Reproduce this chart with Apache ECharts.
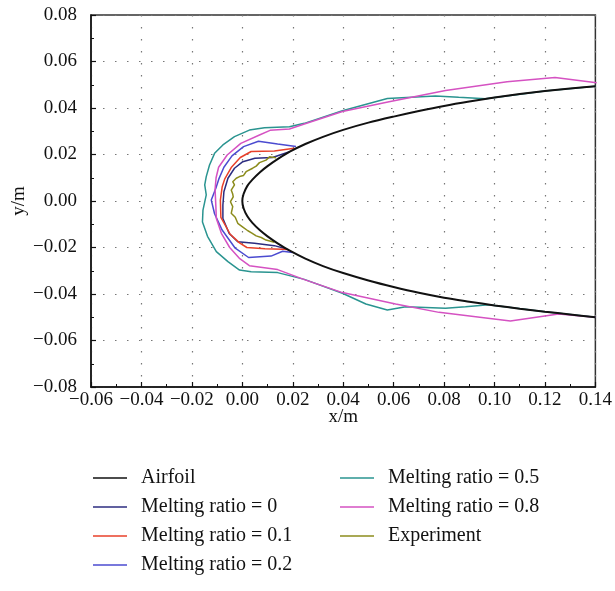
<!DOCTYPE html>
<html>
<head>
<meta charset="utf-8">
<script src="https://cdn.jsdelivr.net/npm/echarts@6/dist/echarts.min.js"></script>
<style>
html,body{margin:0;padding:0;background:#fff;}
#chart{width:615px;height:591px;}
</style>
</head>
<body>
<div id="chart"></div>
<script>
// ---- data: [x (m), y (m)] ----
const seriesNames = ['Airfoil', 'Melting ratio = 0', 'Melting ratio = 0.1', 'Melting ratio = 0.2', 'Melting ratio = 0.5', 'Melting ratio = 0.8', 'Experiment'];

const airfoil = [
  [0.14, 0.0494], [0.13, 0.0484], [0.12, 0.0473], [0.11, 0.0460], [0.10, 0.0445], [0.09, 0.0428],
  [0.08, 0.0409], [0.07, 0.0387], [0.06, 0.0363], [0.05, 0.0337], [0.04, 0.0306], [0.032, 0.0276],
  [0.025, 0.0245], [0.019, 0.0213], [0.014, 0.0180], [0.010, 0.0150], [0.007, 0.0124],
  [0.004, 0.0092], [0.002, 0.0065], [0.0005, 0.0030], [0, 0],
  [0.0005, -0.0031], [0.002, -0.0066], [0.004, -0.0094], [0.007, -0.0126], [0.010, -0.0152],
  [0.014, -0.0182], [0.019, -0.0215], [0.025, -0.0248], [0.032, -0.0280], [0.04, -0.0310],
  [0.05, -0.0342], [0.06, -0.0370], [0.07, -0.0395], [0.08, -0.0416], [0.09, -0.0433],
  [0.10, -0.0449], [0.11, -0.0463], [0.12, -0.0476], [0.13, -0.0488], [0.14, -0.0500]
];

const ratio0 = [
  [0.0187, 0.0212], [0.012, 0.0187], [0.0050, 0.0184], [0.0002, 0.0169], [-0.0031, 0.0141],
  [-0.0057, 0.0098], [-0.0073, 0.0040], [-0.0077, -0.0017], [-0.0077, -0.0075], [-0.0052, -0.0140],
  [-0.0018, -0.0175], [0.0048, -0.0182], [0.0127, -0.0192], [0.0173, -0.0205]
];

const ratio01 = [
  [0.0206, 0.0227], [0.0127, 0.0215], [0.0035, 0.0213], [-0.0008, 0.0187], [-0.0044, 0.0144],
  [-0.0070, 0.0094], [-0.0080, 0.0060], [-0.0087, 0.0004], [-0.0085, -0.0070], [-0.0048, -0.0143],
  [-0.0011, -0.0180], [0.0018, -0.0200], [0.0090, -0.0205], [0.0160, -0.0207], [0.0185, -0.0210]
];

const ratio02 = [
  [0.0213, 0.0234], [0.014, 0.0245], [0.0064, 0.0257], [0.0005, 0.0234], [-0.0041, 0.0194],
  [-0.0073, 0.0145], [-0.0093, 0.0095], [-0.0105, 0.0055], [-0.0123, 0.0004], [-0.0110, -0.0055],
  [-0.0080, -0.0125], [-0.0028, -0.0203], [0.0025, -0.0243], [0.0114, -0.0237], [0.0160, -0.0216],
  [0.0200, -0.0222]
];

const ratio05 = [
  [0.14, 0.0494], [0.12, 0.0473], [0.0964, 0.0440], [0.0858, 0.0446], [0.0766, 0.0452], [0.0575, 0.0441],
  [0.0397, 0.0388], [0.0246, 0.0334], [0.0187, 0.0319], [0.0088, 0.0315], [0.0028, 0.0305],
  [-0.0031, 0.0277], [-0.0077, 0.0241], [-0.0110, 0.0205], [-0.0130, 0.0155], [-0.0143, 0.0105],
  [-0.0149, 0.0069], [-0.0143, 0.0026], [-0.0156, -0.0039], [-0.0158, -0.0090], [-0.0138, -0.0152],
  [-0.0103, -0.0218], [-0.0057, -0.0261], [-0.0011, -0.0297], [0.0035, -0.0304], [0.014, -0.0308],
  [0.0246, -0.0337], [0.0397, -0.0397], [0.049, -0.0443], [0.0575, -0.0469], [0.0648, -0.0455],
  [0.0806, -0.0461], [0.0885, -0.0455], [0.0977, -0.0446], [0.12, -0.0476], [0.14, -0.0500]
];

const ratio08 = [
  [0.1405, 0.0509], [0.124, 0.0531], [0.1050, 0.0513], [0.0806, 0.0475], [0.0582, 0.0427],
  [0.0397, 0.0385], [0.0246, 0.0331], [0.0187, 0.0310], [0.0110, 0.0304], [0.0068, 0.0284],
  [-0.0006, 0.0248], [-0.0060, 0.0198], [-0.0094, 0.0145], [-0.0104, 0.0100], [-0.0108, 0.0050],
  [-0.0105, -0.0020], [-0.0103, -0.0075], [-0.0083, -0.0139], [-0.0050, -0.0200], [-0.0010, -0.0248],
  [0.0028, -0.0278], [0.0140, -0.0295], [0.0246, -0.0338], [0.0397, -0.0394], [0.0608, -0.0443],
  [0.078, -0.0479], [0.1063, -0.0516], [0.1254, -0.0486], [0.14, -0.0500]
];

const experiment = [
  [0.0134, 0.0186], [0.0108, 0.0190], [0.0094, 0.0176], [0.0068, 0.0165], [0.0055, 0.0150],
  [0.0041, 0.0141], [0.0015, 0.0126], [0.0005, 0.0110], [-0.0011, 0.0105], [-0.0024, 0.0098],
  [-0.0038, 0.0083], [-0.0031, 0.0069], [-0.0044, 0.0047], [-0.0038, 0.0030], [-0.0036, 0.0018],
  [-0.0047, -0.0003], [-0.0038, -0.0024], [-0.0044, -0.0053], [-0.0028, -0.0070], [-0.0018, -0.0096],
  [0.0002, -0.0112], [0.0022, -0.0128], [0.0038, -0.0138], [0.0055, -0.0150], [0.0075, -0.0157],
  [0.0094, -0.0168], [0.0127, -0.0177]
];

const xTicks = { min: -0.06, max: 0.14, interval: 0.02 };
const yTicks = { min: -0.08, max: 0.08, interval: 0.02 };

// ---- chart ----
const FONT = '"Liberation Serif", "DejaVu Serif", serif';
const colors = ['#111111', '#2c2c80', '#e8402a', '#4b4bd0', '#2a9490', '#d552c2', '#8c8c1c'];
const widths = [2, 1.5, 1.5, 1.5, 1.5, 1.5, 1.5];
const datasets = [airfoil, ratio0, ratio01, ratio02, ratio05, ratio08, experiment];
const fmt = v => (Math.abs(v) < 1e-9 ? '0.00' : v.toFixed(2).replace('-', '\u2212'));

const chart = echarts.init(document.getElementById('chart'), null, { renderer: 'canvas' });

const series = datasets.map((d, i) => ({
  name: seriesNames[i],
  type: 'line',
  data: d,
  showSymbol: false,
  symbol: 'none',
  smooth: i === 0 ? 0.3 : false,
  z: i === 0 ? 10 : 2 + i,
  itemStyle: { color: colors[i] },
  lineStyle: { color: colors[i], width: widths[i] },
  emphasis: { disabled: true },
  animation: false
}));

const legendCommon = {
  orient: 'vertical',
  top: 468,
  padding: 0,
  itemGap: 9,
  itemWidth: 34,
  itemHeight: 1.5,
  icon: 'rect',
  textStyle: { fontFamily: FONT, fontSize: 20, color: '#111', lineHeight: 20, padding: [0, 0, 0, 9] },
  selectedMode: false
};

chart.setOption({
  animation: false,
  backgroundColor: '#fff',
  grid: { left: 91, top: 15, width: 506, height: 372, show: true, borderColor: '#333', borderWidth: 1.5, backgroundColor: 'transparent' },
  legend: [
    Object.assign({}, legendCommon, { left: 93, data: seriesNames.slice(0, 4) }),
    Object.assign({}, legendCommon, { left: 340, data: seriesNames.slice(4) })
  ],
  xAxis: {
    type: 'value',
    min: xTicks.min, max: xTicks.max, interval: xTicks.interval,
    name: 'x/m', nameLocation: 'middle', nameGap: 21, nameMoveOverlap: false,
    nameTextStyle: { fontFamily: FONT, fontSize: 19, color: '#111', verticalAlign: 'top' },
    axisLine: { show: true, onZero: false, lineStyle: { color: '#111', width: 1.5 } },
    axisTick: { show: true, inside: true, length: 5, lineStyle: { color: '#111', width: 1.2 } },
    minorTick: { show: true, splitNumber: 2, length: 3, lineStyle: { color: '#111', width: 1 } },
    axisLabel: { fontFamily: FONT, fontSize: 19, color: '#111', margin: 4, formatter: fmt },
    splitLine: { show: true, lineStyle: { color: '#777', width: 1.2, type: [1.5, 10.5] } }
  },
  yAxis: {
    type: 'value',
    min: yTicks.min, max: yTicks.max, interval: yTicks.interval,
    name: 'y/m', nameLocation: 'middle', nameGap: 62, nameRotate: 90, nameMoveOverlap: false,
    nameTextStyle: { fontFamily: FONT, fontSize: 19, color: '#111' },
    axisLine: { show: true, onZero: false, lineStyle: { color: '#111', width: 1.5 } },
    axisTick: { show: true, inside: true, length: 5, lineStyle: { color: '#111', width: 1.2 } },
    minorTick: { show: true, splitNumber: 2, length: 3, lineStyle: { color: '#111', width: 1 } },
    axisLabel: { fontFamily: FONT, fontSize: 19, color: '#111', margin: 14, formatter: fmt },
    splitLine: { show: true, lineStyle: { color: '#777', width: 1.2, type: [1.5, 10.5] } }
  },
  series: series
});
</script>
</body>
</html>
